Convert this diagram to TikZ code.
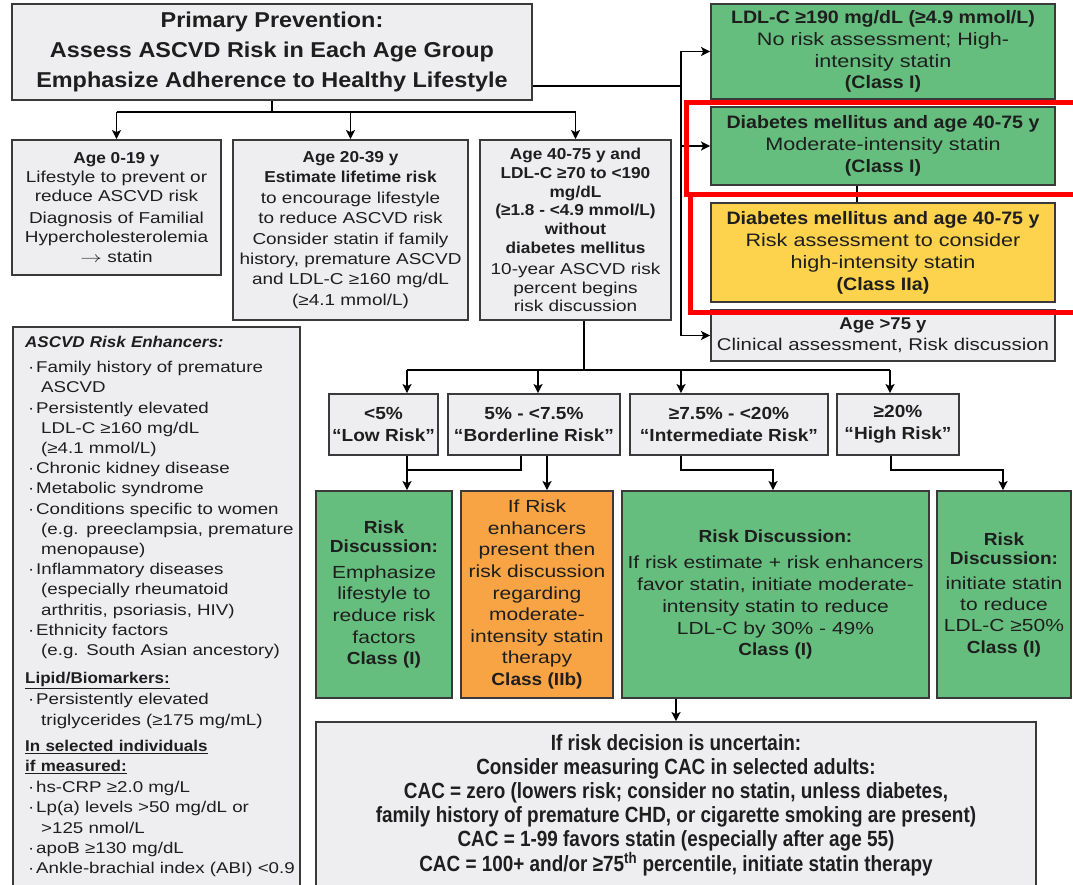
\documentclass[tikz,border=0pt]{standalone}
\usepackage{fontspec}
\setmainfont{Liberation Sans}[FakeStretch=1.2,BoldFeatures={FakeStretch=1.09},BoldItalicFeatures={FakeStretch=1.09}]
\newfontfamily\condf{Liberation Sans}[FakeStretch=0.86,BoldFeatures={FakeStretch=0.86}]
\usetikzlibrary{arrows.meta}
\definecolor{grayc}{HTML}{EEEEF0}
\definecolor{greenc}{HTML}{66BE7E}
\definecolor{yellowc}{HTML}{FDD24C}
\definecolor{orangec}{HTML}{F8A444}
\definecolor{bordc}{HTML}{3A3A3A}
\definecolor{txtc}{HTML}{1E1E1E}
\definecolor{redc}{HTML}{FF0000}
\newcommand\fsz[2]{\fontsize{#1pt}{#2pt}\selectfont}
\newcommand\bul{\hspace*{3pt}\makebox[8pt][l]{·}}
\newcommand\cont{\hspace*{16pt}}
\newcommand\bigarrow{\scalebox{1.5}[1.05]{$\rightarrow$}}
\begin{document}
\begin{tikzpicture}[x=1pt,y=-1pt,
 box/.style={draw=bordc,line width=1.8pt,align=center,inner sep=0pt,text=txtc},
 graybox/.style={box,fill=grayc},
 greenbox/.style={box,fill=greenc},
 yellowbox/.style={box,fill=yellowc},
 orangebox/.style={box,fill=orangec},
 conn/.style={draw=black,line width=1.8pt},
 arr/.style={conn,-{Stealth[length=9pt,width=9pt,inset=2pt]}},
 redbox/.style={draw=redc,line width=5pt},
 sz/.style n args={2}{minimum width=#1pt,minimum height=#2pt}
]
\useasboundingbox (0,0) rectangle (1073,885);
\clip (0,0) rectangle (1073,885);

% title
\node[graybox,sz={520}{96},font=\bfseries\fsz{21.5}{30}] (title) at (272,52)
 {Primary Prevention:\\Assess ASCVD Risk in Each Age Group\\Emphasize Adherence to Healthy Lifestyle};

% age boxes
\node[graybox,sz={209}{135},font=\fsz{15.8}{19}] (age1) at (116.5,207.5)
 {\textbf{Age 0-19 y}\\Lifestyle to prevent or\\reduce ASCVD risk\\[3pt]Diagnosis of Familial\\Hypercholesterolemia\\[1.5pt]\bigarrow{} statin};
\node[graybox,sz={235}{180},font=\fsz{15.8}{20.4}] (age2) at (350.5,230)
 {\textbf{Age 20-39 y}\\\textbf{Estimate lifetime risk}\\to encourage lifestyle\\to reduce ASCVD risk\\Consider statin if family\\history, premature ASCVD\\and LDL-C ≥160 mg/dL\\(≥4.1 mmol/L)};
\node[graybox,sz={191}{180},font=\fsz{15.8}{18.8}] (age3) at (575.5,230)
 {\textbf{Age 40-75 y and}\\\textbf{LDL-C ≥70 to <190}\\\textbf{mg/dL}\\\textbf{(≥1.8 - <4.9 mmol/L)}\\\textbf{without}\\\textbf{diabetes mellitus}\\[2pt]10-year ASCVD risk\\percent begins\\risk discussion};

% right column
\node[greenbox,sz={344}{95},font=\fsz{18}{21.7}] (ldl) at (883,51.5)
 {\textbf{LDL-C ≥190 mg/dL (≥4.9 mmol/L)}\\No risk assessment; High-\\intensity statin\\\textbf{(Class I)}};
\node[greenbox,sz={344}{78},font=\fsz{18}{22}] (dm) at (883,146)
 {\textbf{Diabetes mellitus and age 40-75 y}\\Moderate-intensity statin\\\textbf{(Class I)}};
\node[yellowbox,sz={344}{99},font=\fsz{18}{22}] (yel) at (883,252.5)
 {\textbf{Diabetes mellitus and age 40-75 y}\\Risk assessment to consider\\high-intensity statin\\\textbf{(Class IIa)}};
\node[graybox,sz={344}{51},font=\fsz{17}{21}] (old) at (883,335.5)
 {\textbf{Age >75 y}\\Clinical assessment, Risk discussion};

% risk enhancers
\node[graybox,sz={287}{580}] (enh) at (156.5,617) {};
\node[anchor=north west,inner sep=0pt,text width=280pt,align=left,text=txtc,font=\fsz{15.6}{20.2}] (enhtext) at (25,336)
 {\textbf{\textit{ASCVD Risk Enhancers:}}\\[5pt]
 \bul Family history of premature\\
 \cont ASCVD\\
 \bul Persistently elevated\\
 \cont LDL-C ≥160 mg/dL\\
 \cont (≥4.1 mmol/L)\\
 \bul Chronic kidney disease\\
 \bul Metabolic syndrome\\
 \bul Conditions specific to women\\
 \cont (e.g. preeclampsia, premature\\
 \cont menopause)\\
 \bul Inflammatory diseases\\
 \cont (especially rheumatoid\\
 \cont arthritis, psoriasis, HIV)\\
 \bul Ethnicity factors\\
 \cont (e.g. South Asian ancestory)\\[8pt]
 \textbf{\underline{Lipid/Biomarkers:}}\\[1pt]
 \bul Persistently elevated\\
 \cont triglycerides (≥175 mg/mL)\\[6pt]
 \textbf{\underline{In selected individuals}}\\
 \textbf{\underline{if measured:}}\\[1pt]
 \bul hs-CRP ≥2.0 mg/L\\
 \bul Lp(a) levels >50 mg/dL or\\
 \cont >125 nmol/L\\
 \bul apoB ≥130 mg/dL\\
 \bul Ankle-brachial index (ABI) <0.9};

% risk category boxes
\node[graybox,sz={109}{61},font=\bfseries\fsz{17.5}{22}] (r1) at (383.5,424.5) {<5\%\\“Low Risk”};
\node[graybox,sz={172}{61},font=\bfseries\fsz{17.5}{22}] (r2) at (534,424.5) {5\% - <7.5\%\\“Borderline Risk”};
\node[graybox,sz={198}{61},font=\bfseries\fsz{17.5}{22}] (r3) at (729,424.5) {≥7.5\% - <20\%\\“Intermediate Risk”};
\node[graybox,sz={122}{61},font=\bfseries\fsz{17.5}{22}] (r4) at (898,424.5) {≥20\%\\“High Risk”};

% treatment boxes
\node[greenbox,sz={136}{207},font=\fsz{17.5}{21.7}] (t1) at (384,594.5)
 {\textbf{Risk}\\[-2.5pt]\textbf{Discussion:}\\[4pt]Emphasize\\lifestyle to\\reduce risk\\factors\\\textbf{Class (I)}};
\node[orangebox,sz={152}{207},font=\fsz{17.5}{21.6}] (t2) at (537,594.5)
 {If Risk\\enhancers\\present then\\risk discussion\\regarding\\moderate-\\intensity statin\\therapy\\\textbf{Class (IIb)}};
\node[greenbox,sz={307}{207},font=\fsz{17.5}{21.7}] (t3) at (775.5,594.5)
 {\textbf{Risk Discussion:}\\[5pt]If risk estimate + risk enhancers\\favor statin, initiate moderate-\\intensity statin to reduce\\LDL-C by 30\% - 49\%\\\textbf{Class (I)}};
\node[greenbox,sz={134}{207},font=\fsz{17.5}{21.2}] (t4) at (1004,594.5)
 {\textbf{Risk}\\[-2pt]\textbf{Discussion:}\\[4pt]initiate statin\\to reduce\\LDL-C ≥50\%\\\textbf{Class (I)}};

% CAC box
\node[graybox,sz={720}{166},font=\condf\bfseries\fsz{22}{24.2}] (cac) at (676,805)
 {If risk decision is uncertain:\\Consider measuring CAC in selected adults:\\CAC = zero (lowers risk; consider no statin, unless diabetes,\\family history of premature CHD, or cigarette smoking are present)\\CAC = 1-99 favors statin (especially after age 55)\\CAC = 100+ and/or ≥75\textsuperscript{th} percentile, initiate statin therapy};

% junction coordinates
\coordinate (jT) at (274,112);
\coordinate (vx) at (681,86);
\coordinate (jM) at (584,370);
\coordinate (a1) at (407,370);
\coordinate (a2) at (538,370);
\coordinate (a3) at (681,370);
\coordinate (a4) at (890,370);
\coordinate (c2) at (521,470);
\coordinate (c3) at (547,470);
\coordinate (c4) at (681,470);
\coordinate (c5) at (773,470);
\coordinate (c6) at (891,470);
\coordinate (c7) at (1003,470);
\coordinate (c8) at (676,710);

% connectors: title to age groups
\draw[conn] (title.south) -- (title.south |- jT);
\draw[conn] (age1.north |- jT) -- (age3.north |- jT);
\foreach \n in {age1,age2,age3} \draw[arr] (\n.north |- jT) -- (\n.north);

% title to right column
\draw[conn] (title.east |- vx) -- (vx);
\draw[conn] (vx |- ldl.west) -- (vx |- old.west);
\foreach \n in {ldl,dm,old} \draw[arr] (vx |- \n.west) -- (\n.west);
\draw[conn] ([xshift=-26pt]dm.south) -- ([xshift=-26pt]yel.north);

% age 40-75 to risk categories
\draw[conn] (age3.south -| jM) -- (jM);
\draw[conn] (a1) -- (a4);
\draw[arr] (a1) -- (a1 |- r1.north);
\draw[arr] (a2) -- (a2 |- r2.north);
\draw[arr] (a3) -- (a3 |- r3.north);
\draw[arr] (a4) -- (a4 |- r4.north);

% risk categories to treatment
\draw[arr] (r1.south -| a1) -- (t1.north -| a1);
\draw[conn] (r2.south -| c2) -- (c2) -- (c2 -| a1);
\draw[arr] (r2.south -| c3) -- (t2.north -| c3);
\draw[arr] (r3.south -| c4) -- (c4) -- (c5) -- (t3.north -| c5);
\draw[arr] (r4.south -| c6) -- (c6) -- (c7) -- (t4.north -| c7);
\draw[arr] (t3.south -| c8) -- (cac.north -| c8);

% red highlight frames
\draw[redbox] (686,102.5) rectangle (1100,194.5);
\draw[redbox] (690.5,194.5) rectangle (1100,312.5);
\end{tikzpicture}
\end{document}
